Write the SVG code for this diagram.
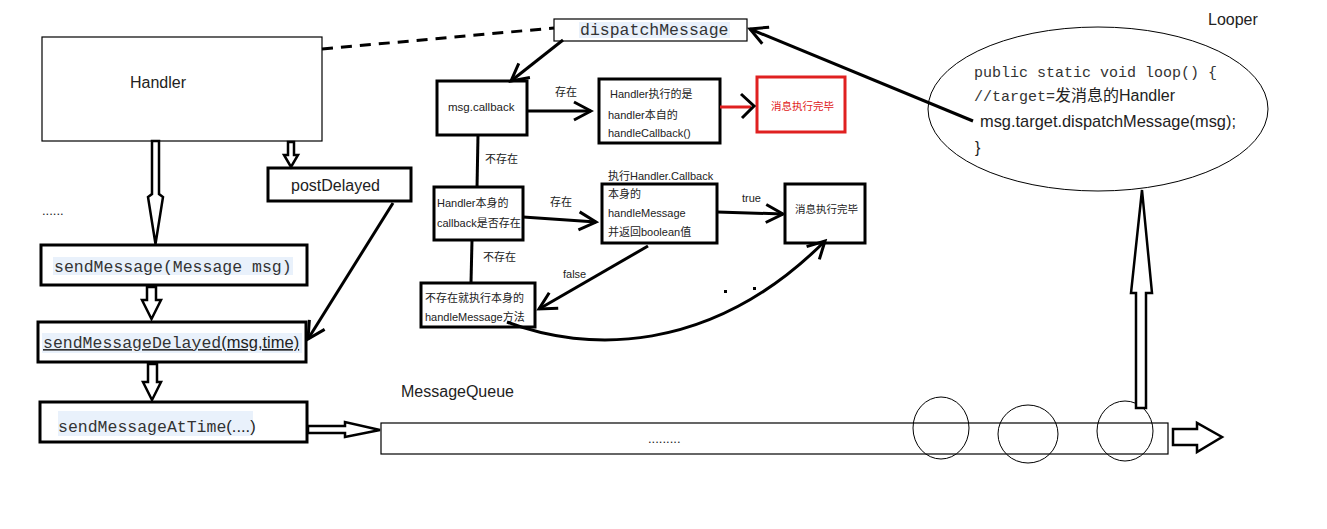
<svg xmlns="http://www.w3.org/2000/svg" width="1327" height="529" viewBox="0 0 1327 529">
<style>
.sans{font-family:"Liberation Sans","Noto Sans CJK SC",sans-serif;fill:#222}
.mono{font-family:"Liberation Mono","Noto Sans CJK SC",monospace;fill:#333}
.thin{fill:#fff;stroke:#000;stroke-width:1.2}
.thick{fill:#fff;stroke:#000;stroke-width:3}
.hl{fill:#e9f1fb}
.conn{fill:none;stroke:#000;stroke-width:3}
.block{fill:#fff;stroke:#000;stroke-width:2.5;stroke-linejoin:miter}
.s11{font-size:11px}
.s16{font-size:16px}
.m16{font-size:16.5px}
</style>
<defs>
<marker id="chev" viewBox="0 0 24 24" refX="21" refY="12" markerWidth="24" markerHeight="24" markerUnits="userSpaceOnUse" orient="auto">
<path d="M4,3 L21,12 L4,21" fill="none" stroke="#000" stroke-width="3"/>
</marker>
</defs>
<rect width="1327" height="529" fill="#fff"/>

<g id="handler">
<rect class="thin" x="42" y="37" width="280" height="104"/>
<text class="sans s16" x="130" y="88">Handler</text>
</g>
<text class="sans" x="42" y="215" font-size="13">......</text>

<g id="postDelayed">
<rect class="thick" x="268" y="168" width="143" height="33"/>
<text class="sans s16" x="291" y="191">postDelayed</text>
</g>

<g id="sendMessage">
<rect class="thick" x="41" y="245" width="266" height="40"/>
<rect class="hl" x="53" y="257" width="240" height="18"/>
<text class="mono m16" x="54" y="272">sendMessage(Message msg)</text>
</g>

<g id="sendMessageDelayed">
<rect class="thick" x="38" y="322" width="268" height="40"/>
<rect class="hl" x="42" y="333" width="260" height="20"/>
<text x="43" y="348"><tspan class="mono m16" text-decoration="underline">sendMessageDelayed</tspan><tspan class="sans" font-size="16.5" text-decoration="underline">(msg,time)</tspan></text>
</g>

<g id="sendMessageAtTime">
<rect class="thick" x="40" y="402" width="267" height="40"/>
<rect class="hl" x="58" y="411" width="195" height="25"/>
<text x="58" y="432"><tspan class="mono m16">sendMessageAtTime</tspan><tspan class="sans" font-size="16.5">(....)</tspan></text>
</g>

<g id="dispatchMessage">
<rect class="thin" x="554" y="19" width="193" height="22"/>
<rect class="hl" x="579" y="22" width="151" height="16"/>
<text class="mono m16" x="580" y="35">dispatchMessage</text>
</g>

<g id="msgCallback">
<rect class="thick" x="437" y="81" width="90" height="54"/>
<text class="sans" font-size="11.5" x="448" y="111">msg.callback</text>
</g>

<g id="handleCallback">
<rect class="thick" x="599" y="79" width="121" height="64"/>
<text class="sans s11" x="610" y="98">Handler执行的是</text>
<text class="sans s11" x="608" y="119">handler本自的</text>
<text class="sans s11" x="608" y="137">handleCallback()</text>
</g>

<g id="done1">
<rect x="757" y="77" width="88" height="55" fill="#fff" stroke="#e02020" stroke-width="3"/>
<text class="sans" font-size="10.5" x="771" y="110" style="fill:#e02020">消息执行完毕</text>
</g>

<g id="handlerCallbackCheck">
<rect class="thick" x="434" y="187" width="89" height="53"/>
<text class="sans s11" x="437" y="207">Handler本身的</text>
<text class="sans s11" x="437" y="227">callback是否存在</text>
</g>

<g id="callbackHandleMessage">
<text class="sans s11" x="608" y="180">执行Handler.Callback</text>
<rect class="thick" x="602" y="184" width="115" height="59"/>
<text class="sans s11" x="608" y="198">本身的</text>
<text class="sans s11" x="608" y="217">handleMessage</text>
<text class="sans s11" x="608" y="236">并返回boolean值</text>
</g>

<g id="done2">
<rect class="thick" x="785" y="184" width="80" height="59"/>
<text class="sans" font-size="10.5" x="795" y="213">消息执行完毕</text>
</g>

<g id="selfHandleMessage">
<rect class="thick" x="421" y="283" width="114" height="44"/>
<text class="sans s11" x="425" y="302">不存在就执行本身的</text>
<text class="sans s11" x="425" y="321">handleMessage方法</text>
</g>

<g id="looper">
<text class="sans s16" x="1208" y="25">Looper</text>
<ellipse cx="1098" cy="109" rx="170" ry="82" fill="none" stroke="#000" stroke-width="1"/>
<text class="mono" font-size="15" x="974" y="77">public static void loop() {</text>
<text x="974" y="101"><tspan class="mono" font-size="15">//target=</tspan><tspan class="sans s16">发消息的Handler</tspan></text>
<text class="sans" font-size="16.4" x="980" y="127">msg.target.dispatchMessage(msg);</text>
<text class="sans s16" x="975" y="153">}</text>
</g>

<g id="messageQueue">
<text class="sans s16" x="401" y="397">MessageQueue</text>
<rect x="381" y="423" width="787" height="31" fill="none" stroke="#000" stroke-width="1.2"/>
<text class="sans" font-size="13" x="648" y="443">.........</text>
<ellipse cx="941" cy="428" rx="28" ry="31" fill="none" stroke="#000" stroke-width="1"/>
<ellipse cx="1028" cy="434" rx="30" ry="29" fill="none" stroke="#000" stroke-width="1"/>
<ellipse cx="1125" cy="431" rx="28" ry="30" fill="none" stroke="#000" stroke-width="1"/>
</g>

<g id="connectors">
<line x1="322" y1="49" x2="554" y2="28" stroke="#000" stroke-width="3" stroke-dasharray="11 8"/>
<polygon class="block" points="152,141 159,141 159,194 163,197 155.5,244 148,197 152,194"/>
<polygon class="block" points="288,142 294,142 294,155 298,155 291,167 284,155 288,155"/>
<polygon class="block" points="147,287 156,287 156,300 161,300 151.5,319 142,300 147,300"/>
<polygon class="block" points="148,364 157,364 157,382 161,382 152,400 143,382 148,382"/>
<polygon class="block" points="308,426 345,426 345,422 380,430 345,437 345,433 308,433"/>
<polygon class="block" stroke-width="1.2" points="1173,429 1197,429 1197,423 1222,437 1197,452 1197,445 1173,445"/>
<polygon class="block" points="1136,408 1146,408 1146,293 1152,293 1142,190 1131,293 1136,293"/>
<line class="conn" x1="393" y1="203" x2="308" y2="339" marker-end="url(#chev)"/>
<line class="conn" x1="973" y1="121" x2="750" y2="29" marker-end="url(#chev)"/>
<line class="conn" x1="563" y1="40" x2="511" y2="81" marker-end="url(#chev)"/>
<line class="conn" x1="528" y1="111" x2="591" y2="111" marker-end="url(#chev)"/>
<text class="sans s11" x="555" y="96">存在</text>
<line x1="720" y1="107" x2="751" y2="107" stroke="#e02020" stroke-width="3"/>
<polyline points="741,94 754,106 742,118" fill="none" stroke="#000" stroke-width="3"/>
<line class="conn" x1="478" y1="135" x2="477" y2="188"/>
<text class="sans s11" x="485" y="163">不存在</text>
<line class="conn" x1="523" y1="217" x2="596" y2="222" marker-end="url(#chev)"/>
<text class="sans s11" x="550" y="206">存在</text>
<line class="conn" x1="717" y1="212" x2="783" y2="214" marker-end="url(#chev)"/>
<text class="sans s11" x="742" y="202">true</text>
<line class="conn" x1="472" y1="240" x2="471" y2="283"/>
<text class="sans s11" x="483" y="261">不存在</text>
<line class="conn" x1="648" y1="246" x2="539" y2="309" marker-end="url(#chev)"/>
<text class="sans s11" x="563" y="278">false</text>
<path class="conn" d="M507,322 C585,352 710,356 825,241" marker-end="url(#chev)"/>
<rect x="724" y="290" width="3" height="3" fill="#000"/>
<rect x="753" y="287" width="3" height="3" fill="#000"/>
</g>
</svg>
